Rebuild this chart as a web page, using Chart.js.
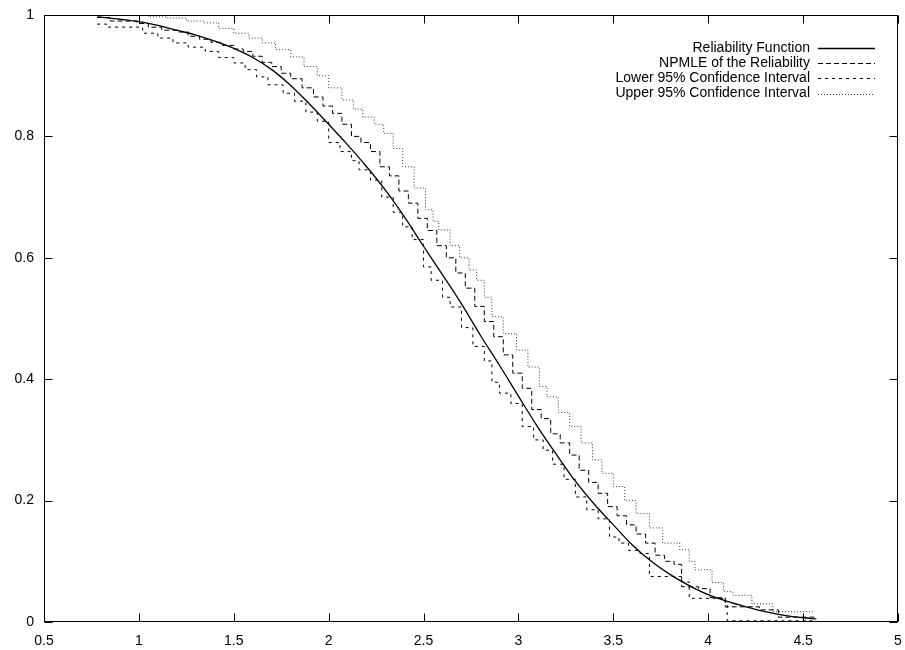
<!DOCTYPE html>
<html>
<head>
<meta charset="utf-8">
<script src="https://cdn.jsdelivr.net/npm/chart.js@4.4.1/dist/chart.umd.min.js"></script>
<style>
    body { margin: 0; background: #fff; }
    #wrap { width: 905px; height: 650px; }
</style>
</head>
<body>
<div id="wrap"><canvas id="relChart" width="905" height="650"></canvas></div>
<script>
// --- Data ---

const seriesLabels = [
    "Reliability Function",
    "NPMLE of the Reliability",
    "Lower 95% Confidence Interval",
    "Upper 95% Confidence Interval",
];

const xTickValues = [0.5, 1, 1.5, 2, 2.5, 3, 3.5, 4, 4.5, 5];
const yTickValues = [0, 0.2, 0.4, 0.6, 0.8, 1];

// smooth reliability curve
const relX = [0.78, 0.9, 1.0, 1.1, 1.2, 1.3, 1.4, 1.5, 1.6, 1.7, 1.8, 1.9, 2.0, 2.1, 2.2, 2.3, 2.4, 2.5, 2.6, 2.7,
    2.8, 2.9, 3.0, 3.1, 3.2, 3.3, 3.4, 3.5, 3.6, 3.7, 3.8, 3.9, 4.0, 4.1, 4.2, 4.3, 4.4, 4.5, 4.57];
const relY = [0.997, 0.993, 0.989, 0.983, 0.975, 0.967, 0.957, 0.945, 0.93, 0.91, 0.884, 0.853, 0.82, 0.786, 0.75, 0.711, 0.667, 0.619, 0.572, 0.524,
    0.472, 0.423, 0.372, 0.322, 0.276, 0.232, 0.194, 0.16, 0.127, 0.1, 0.078, 0.06, 0.045, 0.034, 0.025, 0.017, 0.011, 0.007, 0.005];

// NPMLE step function
const npmleX = [0.78, 0.85, 0.99, 1.05, 1.12, 1.2, 1.26, 1.32, 1.38, 1.44, 1.5, 1.55, 1.6, 1.65, 1.7, 1.75, 1.8, 1.86, 1.92, 1.97,
    2.02, 2.07, 2.12, 2.17, 2.22, 2.27, 2.32, 2.37, 2.42, 2.47, 2.52, 2.57, 2.62, 2.67, 2.72, 2.77, 2.82, 2.87, 2.92, 2.97,
    3.02, 3.07, 3.12, 3.17, 3.22, 3.27, 3.32, 3.37, 3.42, 3.47, 3.52, 3.57, 3.62, 3.67, 3.72, 3.77, 3.82, 3.86, 3.95, 4.01,
    4.09, 4.27, 4.37, 4.56];
const npmleY = [0.996, 0.99, 0.986, 0.98, 0.975, 0.972, 0.965, 0.96, 0.955, 0.95, 0.944, 0.94, 0.932, 0.922, 0.915, 0.904, 0.895, 0.88, 0.865, 0.85,
    0.838, 0.82, 0.8, 0.79, 0.775, 0.75, 0.735, 0.71, 0.69, 0.665, 0.645, 0.62, 0.6, 0.575, 0.55, 0.52, 0.495, 0.47, 0.44, 0.41,
    0.385, 0.35, 0.335, 0.31, 0.295, 0.275, 0.25, 0.23, 0.212, 0.19, 0.175, 0.16, 0.145, 0.13, 0.11, 0.1, 0.095, 0.058, 0.055, 0.04,
    0.025, 0.02, 0.008, 0.008];

// lower 95% bound
const lowerX = [0.78, 0.83, 1.02, 1.1, 1.18, 1.26, 1.35, 1.42, 1.5, 1.56, 1.62, 1.68, 1.76, 1.82, 1.88, 1.94, 2.0, 2.06, 2.12, 2.16,
    2.22, 2.28, 2.34, 2.39, 2.44, 2.5, 2.54, 2.6, 2.64, 2.7, 2.76, 2.82, 2.86, 2.9, 2.96, 3.02, 3.08, 3.13, 3.18, 3.24,
    3.3, 3.36, 3.42, 3.48, 3.53, 3.58, 3.64, 3.69, 3.86, 3.9, 4.09, 4.1, 4.56];
const lowerY = [0.985, 0.98, 0.97, 0.962, 0.954, 0.947, 0.94, 0.93, 0.921, 0.91, 0.898, 0.885, 0.871, 0.858, 0.84, 0.825, 0.79, 0.775, 0.76, 0.745,
    0.728, 0.7, 0.675, 0.651, 0.63, 0.585, 0.563, 0.535, 0.519, 0.485, 0.454, 0.43, 0.395, 0.377, 0.36, 0.322, 0.3, 0.283, 0.26, 0.235,
    0.206, 0.185, 0.17, 0.14, 0.13, 0.118, 0.113, 0.075, 0.066, 0.039, 0.031, 0.002, 0.002];

// upper 95% bound
const upperX = [0.78, 1.05, 1.15, 1.25, 1.34, 1.42, 1.5, 1.58, 1.65, 1.72, 1.8, 1.87, 1.94, 2.0, 2.07, 2.13, 2.18, 2.24, 2.29, 2.34,
    2.39, 2.45, 2.51, 2.55, 2.58, 2.64, 2.69, 2.74, 2.78, 2.82, 2.86, 2.92, 2.99, 3.05, 3.11, 3.15, 3.21, 3.27, 3.33, 3.39,
    3.44, 3.5, 3.56, 3.62, 3.69, 3.76, 3.85, 3.9, 3.93, 4.02, 4.08, 4.13, 4.23, 4.34, 4.56];
const upperY = [0.999, 0.997, 0.995, 0.99, 0.987, 0.978, 0.97, 0.962, 0.954, 0.943, 0.931, 0.915, 0.9, 0.88, 0.86, 0.845, 0.832, 0.82, 0.805, 0.78,
    0.75, 0.715, 0.679, 0.66, 0.646, 0.62, 0.6, 0.58, 0.563, 0.535, 0.503, 0.475, 0.448, 0.42, 0.388, 0.371, 0.345, 0.322, 0.295, 0.267,
    0.245, 0.223, 0.2, 0.179, 0.155, 0.13, 0.119, 0.1, 0.086, 0.065, 0.05, 0.044, 0.03, 0.017, 0.017];

// --- Helpers ---

function toPoints(xs, ys) {
    return xs.map((x, i) => ({ x: x, y: ys[i] }));
}

const FONT = "'Liberation Sans', Arial, Helvetica, sans-serif";

// gnuplot-like frame with inward ticks on all four sides
const framePlugin = {
    id: "frame",
    afterDatasetsDraw(chart) {
        const { ctx, chartArea: a, scales } = chart;
        const L = Math.round(a.left) + 0.5, R = Math.round(a.right) - 0.5;
        const T = Math.round(a.top) + 0.5, B = Math.round(a.bottom) - 0.5;
        const len = 8;
        ctx.save();
        ctx.strokeStyle = "#000";
        ctx.lineWidth = 1;
        ctx.setLineDash([]);
        ctx.strokeRect(L, T, R - L, B - T);
        ctx.beginPath();
        xTickValues.forEach((v) => {
            const px = Math.round(scales.x.getPixelForValue(v)) + 0.5;
            ctx.moveTo(px, B); ctx.lineTo(px, B - len);
            ctx.moveTo(px, T); ctx.lineTo(px, T + len);
        });
        yTickValues.forEach((v) => {
            const py = Math.round(scales.y.getPixelForValue(v)) + 0.5;
            ctx.moveTo(L, py); ctx.lineTo(L + len, py);
            ctx.moveTo(R, py); ctx.lineTo(R - len, py);
        });
        ctx.stroke();
        ctx.restore();
    },
    // key in the top right corner: text right aligned, line sample after it
    afterDraw(chart) {
        const ctx = chart.ctx;
        const textRight = 810, lineStart = 818, lineEnd = 875;
        ctx.save();
        ctx.font = "14px " + FONT;
        ctx.textAlign = "right";
        ctx.textBaseline = "middle";
        chart.data.datasets.forEach((ds, i) => {
            const y = 48 + i * 15.2;
            ctx.fillStyle = "#000";
            ctx.fillText(ds.label, textRight, y);
            ctx.beginPath();
            ctx.strokeStyle = ds.borderColor;
            ctx.lineWidth = ds.borderWidth;
            ctx.setLineDash(ds.borderDash || []);
            ctx.moveTo(lineStart, Math.round(y) + 0.5);
            ctx.lineTo(lineEnd, Math.round(y) + 0.5);
            ctx.stroke();
        });
        ctx.restore();
    },
};

// --- Chart ---

const ctx = document.getElementById("relChart");

const relChart = new Chart(ctx, {
    type: "scatter",
    data: {
        datasets: [
            {
                label: seriesLabels[0],
                data: toPoints(relX, relY),
                showLine: true,
                borderColor: "#000",
                borderWidth: 1.3,
                pointRadius: 0,
                cubicInterpolationMode: "monotone",
            },
            {
                label: seriesLabels[1],
                data: toPoints(npmleX, npmleY),
                showLine: true,
                stepped: true,
                borderColor: "#000",
                borderWidth: 1,
                borderDash: [5, 3],
                pointRadius: 0,
            },
            {
                label: seriesLabels[2],
                data: toPoints(lowerX, lowerY),
                showLine: true,
                stepped: true,
                borderColor: "#000",
                borderWidth: 1,
                borderDash: [3, 4],
                pointRadius: 0,
            },
            {
                label: seriesLabels[3],
                data: toPoints(upperX, upperY),
                showLine: true,
                stepped: true,
                borderColor: "#333",
                borderWidth: 1,
                borderDash: [1, 2],
                pointRadius: 0,
            },
        ],
    },
    options: {
        responsive: false,
        animation: false,
        events: [],
        layout: {
            padding: { top: 15, right: 7, left: 0, bottom: 0 },
        },
        plugins: {
            legend: { display: false },
            tooltip: { enabled: false },
        },
        scales: {
            x: {
                type: "linear",
                min: 0.5,
                max: 5,
                afterBuildTicks: (scale) => {
                    scale.ticks = xTickValues.map((v) => ({ value: v }));
                },
                afterFit: (scale) => {
                    scale.height = 28;
                    scale.paddingLeft = 0;
                    scale.paddingRight = 0;
                },
                grid: { display: false, drawTicks: false },
                border: { display: false },
                ticks: {
                    padding: 11,
                    maxRotation: 0,
                    color: "#000",
                    font: { family: FONT, size: 14 },
                    callback: (v) => String(v),
                },
            },
            y: {
                type: "linear",
                min: 0,
                max: 1,
                afterBuildTicks: (scale) => {
                    scale.ticks = yTickValues.map((v) => ({ value: v }));
                },
                afterFit: (scale) => {
                    scale.width = 44;
                    scale.paddingTop = 0;
                    scale.paddingBottom = 0;
                },
                grid: { display: false, drawTicks: false },
                border: { display: false },
                ticks: {
                    padding: 10,
                    color: "#000",
                    font: { family: FONT, size: 14 },
                    callback: (v) => String(v),
                },
            },
        },
    },
    plugins: [framePlugin],
});
</script>
</body>
</html>
